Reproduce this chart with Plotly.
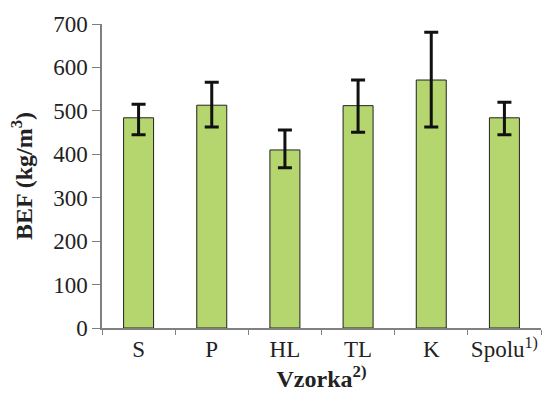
import plotly.graph_objects as go

categories = ["S", "P", "HL", "TL", "K", "Spolu<sup>1)</sup>"]
means = [484, 513, 410, 512, 571, 484]
err_plus = [31, 53, 46, 59, 110, 36]
err_minus = [39, 50, 41, 61, 108, 39]
y_ticks = [0, 100, 200, 300, 400, 500, 600, 700]

font = "Liberation Serif, Times New Roman, serif"

fig = go.Figure(go.Bar(
    x=categories, y=means,
    marker=dict(color="#b5d56e", line=dict(color="#222222", width=1)),
    error_y=dict(type="data", symmetric=False, array=err_plus, arrayminus=err_minus,
                 color="#111111", thickness=3, width=7),
))

fig.update_layout(
    width=542, height=398,
    margin=dict(l=102, r=1, t=24, b=70),
    plot_bgcolor="white", paper_bgcolor="white",
    bargap=0.59,
    showlegend=False,
    font=dict(family=font, size=23, color="#222222"),
)
fig.update_xaxes(
    type="category", showline=True, linecolor="#808080", linewidth=1.5,
    ticks="outside", tickson="boundaries", ticklen=5, tickcolor="#808080",
    tickangle=0,
    tickfont=dict(family=font, size=23, color="#222222"),
    title=dict(text="<b>Vzorka<sup>2)</sup></b>", font=dict(family=font, size=24), standoff=2),
    automargin=False,
)
fig.update_yaxes(
    range=[0, 700], tickvals=y_ticks, showline=True, linecolor="#808080", linewidth=1.5,
    ticks="outside", ticklen=8, tickcolor="#808080", showgrid=False, zeroline=False,
    tickfont=dict(family=font, size=23, color="#222222"),
    title=dict(text="<b>BEF (kg/m<sup>3</sup>)</b>", font=dict(family=font, size=24), standoff=14),
    automargin=False,
)

fig.write_html(
    "out.html",
    config={"displayModeBar": False},
    post_script="document.body.style.margin='0';document.body.style.overflow='hidden';",
)
